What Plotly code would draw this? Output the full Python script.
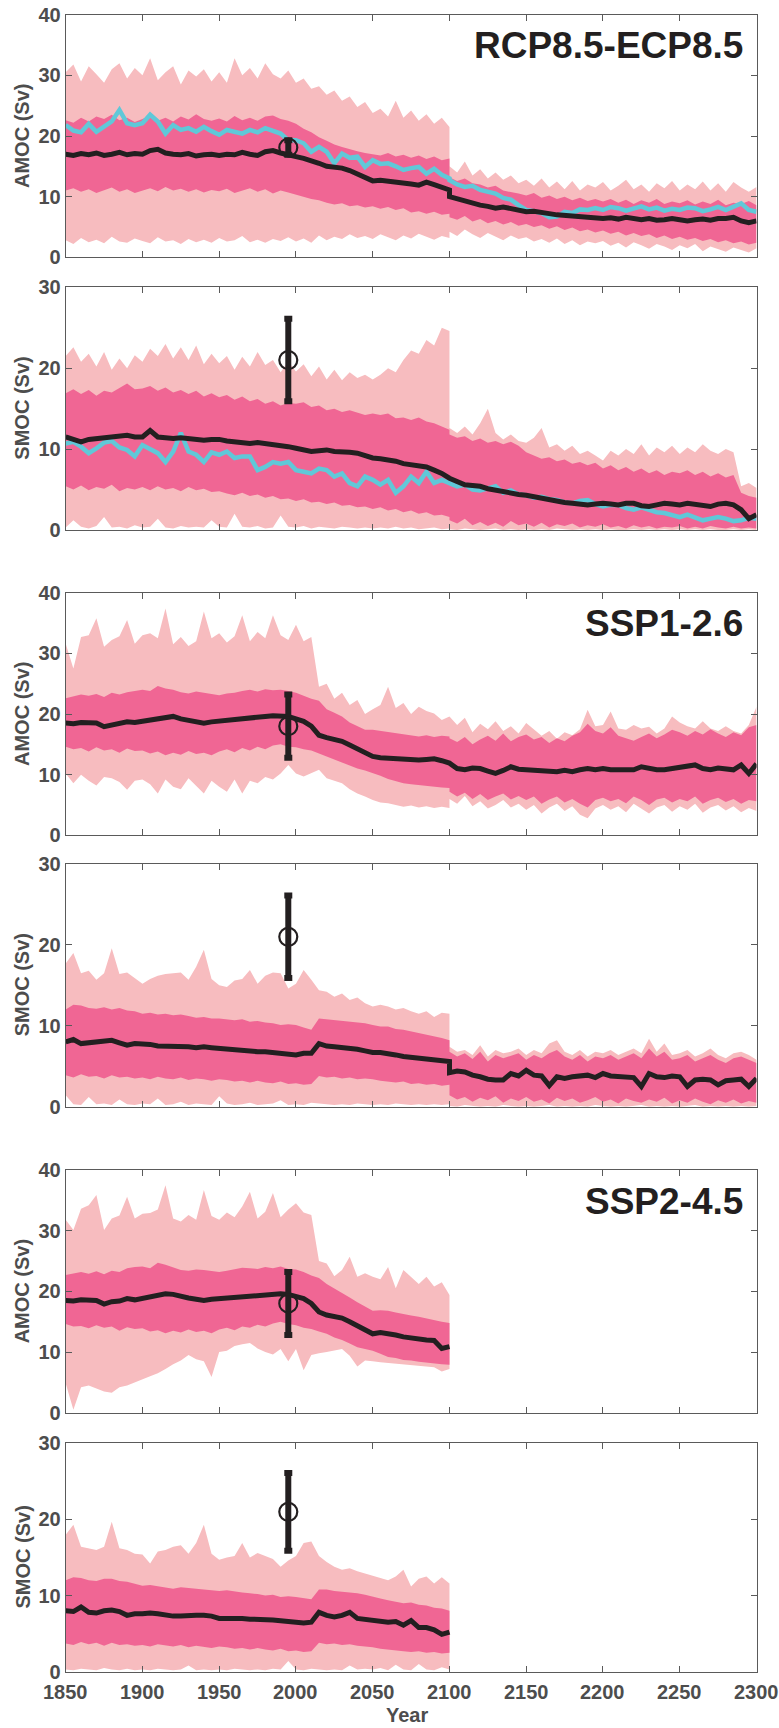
import plotly.graph_objects as go

# Annual-ensemble statistics sampled every 5 years.
# "_a" series run 1850-2100, "_b" series run 2100-2300 (extension runs).
YEARS_A = list(range(1850, 2101, 5))
YEARS_B = list(range(2100, 2301, 5))
YTICKS_AMOC = [0, 10, 20, 30, 40]
YTICKS_SMOC = [0, 10, 20, 30]
XTICKS = list(range(1850, 2301, 50))

# ---------------- RCP8.5-ECP8.5 : AMOC ----------------
rcp_amoc_max_a = [30.5, 31.8, 29.0, 31.5, 30.2, 28.8, 31.0, 32.0, 29.5, 31.2,
                  30.0, 32.8, 29.2, 30.5, 31.5, 28.5, 30.8, 29.8, 31.0, 29.0,
                  30.5, 28.8, 32.8, 30.0, 31.2, 29.5, 32.0, 30.2, 29.5, 30.8,
                  28.8, 29.5, 27.8, 28.2, 26.8, 27.5, 25.8, 26.5, 24.8, 25.6,
                  23.8, 24.5, 23.2, 25.8, 23.0, 24.2, 22.5, 23.6, 22.0, 23.0, 21.5]
rcp_amoc_max_b = [15.0, 14.0, 15.8, 13.5, 14.5, 13.0, 14.0, 12.8, 13.5, 12.2,
                  12.8, 11.8, 13.0, 11.5, 12.5, 11.2, 12.6, 11.0, 12.0, 11.5,
                  12.4, 11.0, 11.8, 12.8, 11.2, 12.0, 10.8, 12.2, 11.4, 12.6,
                  11.0, 12.0, 11.2, 12.5, 11.0, 12.2, 10.8, 12.4, 11.5, 10.8, 11.6]
rcp_amoc_min_a = [2.8, 2.2, 3.2, 2.5, 2.9, 2.3, 3.4, 2.6, 2.4, 3.1,
                  2.7, 2.3, 3.3, 2.6, 2.8, 2.2, 3.0, 2.5, 2.9, 2.4,
                  3.2, 2.6, 2.8, 3.5, 2.5, 2.9, 2.4, 3.0, 2.7, 3.3,
                  2.6, 3.1, 2.4, 3.6, 2.8, 3.4, 3.0, 3.8, 3.2, 3.5,
                  3.0, 3.8, 3.3, 2.8, 3.6, 3.1, 3.9, 3.4, 2.9, 3.5, 3.2]
rcp_amoc_min_b = [4.2, 3.5, 4.6, 3.8, 3.2, 4.0, 3.4, 2.8, 3.6, 3.0,
                  3.3, 2.6, 3.0, 2.4, 3.1, 2.2, 2.8, 2.0, 2.6, 2.3,
                  2.7, 1.9, 2.4, 1.6, 2.5, 2.0, 1.4, 2.2, 1.8, 1.2,
                  2.0, 1.5, 2.2, 1.0, 1.8, 1.4, 0.9, 1.6, 1.2, 0.8, 1.5]
rcp_amoc_hi_a = [22.6, 22.2, 23.0, 22.4, 23.2, 22.8, 23.5, 22.6, 23.0, 22.3,
                 22.8, 23.4, 22.5, 23.0, 22.4, 23.2, 22.7, 23.6, 22.8, 22.5,
                 22.9, 22.4, 23.3, 22.6, 23.0, 22.5, 23.2, 23.4, 22.8, 22.5,
                 22.0, 21.2, 20.6, 19.8, 19.2, 18.6, 18.2, 17.8, 17.5, 17.2,
                 17.0, 16.8, 17.2, 16.6, 16.9, 16.4, 16.8, 16.2, 16.6, 16.0, 16.3]
rcp_amoc_hi_b = [13.2, 12.6, 13.0, 12.2, 12.0, 11.5, 11.8, 11.0, 10.8, 10.5,
                 10.2, 10.6, 9.8, 10.2, 9.6, 10.0, 9.4, 9.8, 9.3, 9.6,
                 9.2, 9.6, 9.0, 9.5, 8.8, 9.4, 9.0, 9.6, 8.8, 9.2,
                 8.9, 9.4, 8.7, 9.2, 8.8, 9.5, 8.6, 9.0, 8.8, 9.3, 8.6]
rcp_amoc_lo_a = [11.0, 11.4, 10.8, 11.2, 10.6, 11.0, 11.5, 10.8, 11.2, 10.6,
                 11.0, 11.4, 10.9, 11.6, 11.0, 11.3, 10.8, 11.2, 10.7, 11.1,
                 10.9, 11.3, 10.6, 11.0, 11.4, 10.8, 11.2, 10.5, 11.0, 10.7,
                 10.4, 10.0, 9.6, 9.4, 9.0, 8.7, 8.9, 8.4, 8.6, 8.2,
                 8.4, 8.0, 8.3, 7.8, 8.1, 7.4, 7.6, 7.2, 7.5, 7.0, 7.2]
rcp_amoc_lo_b = [6.6, 6.2, 6.8, 5.9, 6.3, 5.6, 6.0, 5.4, 5.8, 5.2,
                 5.5, 5.0, 5.3, 4.7, 5.1, 4.5, 4.9, 4.3, 4.6, 4.1,
                 4.4, 3.9, 4.2, 3.6, 4.0, 3.5, 3.8, 3.2, 3.6, 3.0,
                 3.4, 2.9, 3.2, 2.7, 3.0, 2.5, 2.8, 2.3, 2.6, 2.1, 2.4]
rcp_amoc_mean_a = [17.0, 16.8, 17.1, 16.9, 17.2, 16.8, 17.0, 17.3, 16.9, 17.1,
                   17.0, 17.6, 17.8, 17.2, 17.0, 16.9, 17.1, 16.7, 16.9, 17.0,
                   16.8, 17.0, 16.9, 17.3, 17.0, 16.8, 17.4, 17.6, 17.2, 17.0,
                   16.6, 16.3, 16.0, 15.5, 15.0, 14.9, 14.7, 14.3, 13.8, 13.3,
                   12.6, 12.7, 12.6, 12.4, 12.2, 12.1, 11.9, 12.4, 12.0, 11.5, 11.1]
rcp_amoc_mean_b = [10.0, 9.6, 9.4, 9.0, 8.6, 8.4, 8.1, 8.3, 8.0, 7.7,
                   7.5, 7.6, 7.3, 7.2, 7.0, 6.9, 6.7, 6.8, 6.5, 6.6,
                   6.4, 6.5, 6.3, 6.6, 6.4, 6.2, 6.4, 6.1, 6.2, 6.4,
                   6.2, 6.0, 6.2, 6.3, 6.1, 6.4, 6.4, 6.6, 6.0, 5.7, 6.0]
rcp_amoc_model_a = [21.8, 20.9, 20.6, 22.0, 20.7, 21.5, 22.4, 24.3, 22.1, 21.8,
                    22.1, 23.5, 22.4, 20.4, 21.8, 21.0, 21.3, 20.7, 21.5, 20.8,
                    20.2, 21.0, 20.7, 20.4, 21.0, 20.6, 21.3, 20.8, 20.4, 19.3,
                    19.3, 18.8, 17.4, 18.2, 17.4, 15.5, 17.1, 16.4, 16.6, 14.9,
                    16.0, 15.4, 15.5, 15.0, 14.4, 14.7, 14.9, 13.8, 14.6, 13.6, 13.0]
rcp_amoc_model_b = [12.7, 12.0, 11.6, 11.8, 11.1, 10.8, 10.5, 9.8, 9.5, 8.6,
                    7.8, 7.6, 7.3, 6.6, 6.7, 7.5, 7.3, 7.9, 7.8, 8.1,
                    7.8, 8.3, 8.1, 7.7, 8.1, 8.4, 7.9, 8.2, 7.7, 8.0,
                    7.8, 8.2, 8.1, 7.6, 7.9, 8.3, 7.8, 8.4, 8.9, 7.8, 7.5]

# ---------------- RCP8.5-ECP8.5 : SMOC ----------------
rcp_smoc_max_a = [21.5, 22.6, 20.8, 21.8, 20.2, 22.0, 19.8, 21.2, 20.0, 21.6,
                  20.8, 22.4, 21.5, 23.0, 21.2, 22.6, 21.0, 22.8, 20.5, 21.8,
                  20.6, 21.5, 19.8, 21.4, 20.2, 22.0, 20.4, 21.0, 19.5, 20.8,
                  19.6, 20.5, 19.0, 20.2, 18.6, 19.8, 18.5, 19.5, 18.8, 19.2,
                  18.6, 19.2, 20.0, 19.5, 21.0, 22.2, 21.8, 23.5, 22.8, 25.0, 24.6]
rcp_smoc_max_b = [12.6, 12.0, 12.8, 11.8, 13.2, 15.0, 12.0, 11.2, 11.8, 11.0,
                  10.8, 11.4, 12.6, 10.2, 10.6, 9.8, 10.4, 9.4, 9.8, 9.2,
                  8.6, 9.8, 9.2, 10.0, 9.4, 10.6, 9.2, 10.2, 9.6, 10.4,
                  9.4, 10.2, 9.6, 10.6, 9.8, 9.4, 10.0, 9.6, 5.4, 5.8, 5.2]
rcp_smoc_min_a = [0.3, 1.2, 0.4, 0.2, 0.5, 1.6, 0.3, 0.4, 0.2, 0.6,
                  0.3, 0.4, 1.4, 0.3, 0.2, 0.5, 0.3, 0.4, 0.3, 1.2,
                  0.4, 0.3, 2.0, 0.4, 0.3, 0.5, 0.2, 0.3, 1.8, 0.4,
                  0.3, 0.5, 0.2, 0.4, 0.3, 0.2, 0.4, 0.3, 0.2, 0.3,
                  0.2, 0.3, 0.2, 0.4, 0.2, 0.3, 0.1, 0.2, 0.3, 0.1, 0.2]
rcp_smoc_min_b = [0.1, 0.0, 0.2, 0.1, 0.0, 0.1, 0.2, 0.0, 0.1, 0.0,
                  0.1, 0.0, 0.1, 0.0, 0.2, 0.1, 0.0, 0.1, 0.0, 0.1,
                  0.0, 0.1, 0.0, 0.0, 0.1, 0.0, 0.1, 0.0, 0.1, 0.0,
                  0.1, 0.0, 0.1, 0.0, 0.1, 0.0, 0.0, 0.1, 0.0, 0.1, 0.0]
rcp_smoc_hi_a = [16.9, 17.4, 16.8, 17.3, 16.6, 17.2, 17.0, 17.6, 18.1, 17.4,
                 17.5, 17.8, 17.2, 17.6, 17.0, 17.3, 16.8, 17.2, 16.5, 16.9,
                 16.4, 16.7, 16.1, 16.5, 15.9, 16.2, 15.6, 15.9, 15.4, 15.7,
                 15.6, 15.8, 15.2, 15.4, 14.8, 15.0, 14.6, 14.8, 14.5, 14.2,
                 14.4, 14.2, 14.4, 13.8, 13.9, 13.6, 13.9, 13.4, 13.2, 12.8, 12.4]
rcp_smoc_hi_b = [11.8, 11.4, 11.6, 11.0, 11.3, 10.8, 11.0, 10.6, 10.9, 10.4,
                 9.6, 9.2, 8.8, 9.0, 8.5, 8.7, 8.2, 8.4, 8.0, 8.3,
                 7.6, 8.0, 7.4, 7.8, 7.2, 7.6, 7.0, 7.4, 6.8, 7.2,
                 7.0, 7.4, 6.8, 7.2, 6.6, 7.0, 6.5, 6.8, 4.6, 4.2, 4.0]
rcp_smoc_lo_a = [5.4, 5.0, 5.5, 4.9, 5.3, 5.1, 5.6, 4.8, 5.2, 5.0,
                 5.3, 4.9, 5.4, 5.0, 5.2, 4.8, 5.3, 4.9, 5.1, 4.7,
                 4.8, 4.5, 4.3, 4.6, 4.2, 4.4, 4.0, 4.2, 3.8, 3.9,
                 3.6, 3.8, 3.4, 3.5, 3.2, 3.4, 3.0, 3.1, 2.8, 2.9,
                 2.6, 2.8, 2.4, 2.6, 2.2, 2.4, 2.0, 2.2, 1.8, 1.9, 1.6]
rcp_smoc_lo_b = [1.2, 0.8, 1.4, 0.6, 1.0, 0.5, 0.9, 0.4, 1.1, 0.6,
                 0.8, 0.4, 0.9, 0.3, 0.7, 0.5, 0.8, 0.3, 0.6, 0.4,
                 0.7, 0.3, 0.5, 0.2, 0.6, 0.3, 0.5, 0.2, 0.4, 0.3,
                 0.5, 0.2, 0.4, 0.2, 0.5, 0.3, 0.2, 0.4, 0.2, 0.3, 0.2]
rcp_smoc_mean_a = [11.5, 11.2, 10.9, 11.2, 11.3, 11.4, 11.5, 11.6, 11.7, 11.5,
                   11.5, 12.3, 11.5, 11.4, 11.3, 11.4, 11.3, 11.2, 11.1, 11.2,
                   11.2, 11.0, 10.9, 10.8, 10.7, 10.8, 10.7, 10.6, 10.5, 10.3,
                   10.1, 9.9, 9.7, 9.8, 9.9, 9.7, 9.7, 9.6, 9.5, 9.2,
                   8.9, 8.8, 8.7, 8.5, 8.2, 8.1, 8.0, 7.8, 7.4, 7.0, 6.4]
rcp_smoc_mean_b = [6.4, 6.0, 5.6, 5.5, 5.4, 5.1, 4.9, 4.7, 4.5, 4.4,
                   4.3, 4.1, 3.9, 3.7, 3.5, 3.4, 3.3, 3.2, 3.1, 3.2,
                   3.3, 3.2, 3.1, 3.3, 3.3, 3.0, 2.9, 3.1, 3.3, 3.2,
                   3.1, 3.3, 3.2, 3.0, 2.9, 3.2, 3.3, 3.1, 2.5, 1.4, 1.9]
rcp_smoc_model_a = [10.7, 10.9, 10.3, 9.5, 10.1, 10.8, 11.0, 10.2, 9.9, 9.1,
                    10.5, 10.0, 9.5, 8.4, 9.7, 12.0, 9.7, 9.3, 8.4, 9.6,
                    9.3, 9.7, 8.9, 9.1, 9.1, 7.4, 7.8, 8.4, 8.2, 8.4,
                    7.4, 7.2, 7.0, 7.6, 7.4, 6.6, 7.0, 5.8, 5.4, 6.6,
                    6.2, 5.6, 6.2, 4.6, 5.4, 6.6, 5.8, 7.2, 5.8, 6.2, 5.8]
rcp_smoc_model_b = [5.8, 5.4, 5.6, 5.0, 4.9, 5.2, 5.4, 4.6, 4.9, 4.4,
                    4.3, 4.0, 4.1, 3.8, 3.7, 3.4, 3.3, 3.6, 3.7, 3.2,
                    2.9, 3.1, 3.1, 2.7, 2.5, 2.8, 2.5, 2.2, 2.1, 1.8,
                    1.6, 1.9, 1.6, 1.2, 1.4, 1.6, 1.4, 1.1, 1.2, 1.5, 1.4]

# ---------------- SSP1-2.6 : AMOC ----------------
ssp126_amoc_max_a = [31.6, 27.5, 32.7, 33.0, 35.8, 31.1, 32.2, 32.8, 35.5, 31.6,
                     33.0, 33.3, 32.5, 37.4, 31.5, 32.7, 31.2, 32.0, 36.9, 32.5,
                     33.3, 31.8, 32.8, 36.3, 32.0, 33.5, 32.5, 36.3, 33.0, 32.2,
                     34.7, 32.0, 32.7, 24.5, 25.0, 22.5, 23.5, 21.5, 22.3, 20.0,
                     20.8, 21.5, 24.5, 21.0, 21.8, 20.0, 21.2, 20.5, 20.1, 19.0, 19.6]
ssp126_amoc_max_b = [19.6, 18.2, 19.4, 17.0, 18.4, 17.5, 18.8, 17.2, 18.0, 16.8,
                     18.5, 17.5, 16.4, 17.2, 15.9, 17.0, 16.5, 17.5, 20.7, 18.0,
                     18.2, 20.4, 17.6, 17.4, 18.2, 17.6, 17.9, 16.8, 17.6, 19.6,
                     18.6, 18.0, 17.6, 18.8, 17.6, 17.2, 18.0, 17.2, 16.8, 18.2, 21.2]
ssp126_amoc_min_a = [10.2, 8.6, 10.0, 9.0, 8.2, 9.6, 9.4, 8.8, 7.5, 9.0,
                     9.2, 8.4, 6.9, 9.2, 8.0, 7.6, 9.4, 8.2, 6.9, 9.0,
                     8.0, 7.2, 9.2, 6.9, 9.0, 8.6, 9.6, 9.2, 10.2, 11.6,
                     10.2, 9.7, 10.2, 10.8, 9.4, 9.0, 8.6, 7.6, 6.9, 6.4,
                     5.8, 5.4, 5.3, 5.0, 4.7, 4.9, 4.6, 4.8, 4.5, 4.7, 4.5]
ssp126_amoc_min_b = [6.0, 5.2, 6.5, 4.8, 5.6, 4.4, 5.0, 5.8, 4.6, 5.2,
                     4.2, 5.0, 3.6, 4.6, 5.2, 4.0, 4.8, 3.4, 2.8, 4.4,
                     5.0, 4.2, 4.8, 3.8, 5.2, 4.4, 3.6, 4.6, 5.0, 3.9,
                     4.8, 4.2, 5.2, 3.7, 4.6, 5.0, 4.1, 4.8, 3.8, 4.5, 4.0]
ssp126_amoc_hi_a = [22.6, 22.9, 23.2, 23.0, 23.3, 22.8, 23.5, 23.2, 23.6, 23.8,
                    24.0, 23.8, 24.6, 24.2, 24.0, 23.6, 23.4, 23.7, 23.5, 23.2,
                    23.1, 23.4, 23.5, 23.8, 24.0, 23.7, 24.1, 23.9, 24.0, 23.8,
                    23.5, 23.0, 22.5, 22.2, 20.8, 20.2, 19.6, 18.6, 18.0, 17.4,
                    17.4, 17.2, 17.1, 16.8, 16.6, 16.4, 16.3, 16.5, 16.2, 16.4, 16.3]
ssp126_amoc_hi_b = [16.0, 15.4, 16.2, 15.0, 15.8, 16.4, 15.6, 16.8, 15.5, 16.2,
                    16.6, 15.8, 16.2, 15.2, 16.0, 15.5, 16.4, 17.0, 18.4, 17.2,
                    16.8, 17.8, 16.4, 16.0, 15.6, 16.2, 16.8, 16.0, 16.6, 17.4,
                    17.0, 16.4, 17.2, 16.6, 17.5, 16.8, 16.2, 17.0, 16.5, 17.8, 18.2]
ssp126_amoc_lo_a = [14.6, 14.2, 14.4, 13.8, 14.5, 14.0, 14.2, 13.6, 14.3, 13.9,
                    14.0, 13.5, 13.8, 13.2, 13.6, 13.3, 13.9, 13.4, 13.6, 13.2,
                    13.8, 14.2, 13.7, 14.4, 14.0, 14.6, 14.2, 14.8, 15.0, 14.6,
                    14.5, 14.2, 14.0, 13.6, 13.0, 12.5, 12.0, 11.5, 11.0, 10.7,
                    10.3, 9.8, 9.3, 8.9, 8.6, 8.4, 8.2, 8.1, 8.0, 7.9, 7.8]
ssp126_amoc_lo_b = [7.2, 6.4, 7.0, 6.0, 6.8, 5.8, 6.4, 6.9, 5.9, 6.5,
                    5.8, 6.4, 5.2, 5.9, 6.4, 5.4, 6.0, 5.2, 4.6, 5.8,
                    6.2, 5.6, 6.0, 5.3, 6.4, 5.8, 5.0, 5.9, 6.2, 5.4,
                    6.0, 5.6, 6.4, 5.2, 5.8, 6.2, 5.5, 6.0, 5.2, 5.8, 5.6]
ssp126_amoc_mean_a = [18.5, 18.4, 18.6, 18.5, 18.5, 17.9, 18.2, 18.4, 18.7, 18.6,
                      18.8, 19.0, 19.3, 19.5, 19.6, 19.2, 19.0, 18.8, 18.5, 18.7,
                      18.8, 19.0, 19.0, 19.1, 19.2, 19.4, 19.6, 19.7, 19.6, 19.6,
                      19.2, 18.8, 18.0, 16.5, 16.1, 15.9, 15.5, 14.9, 14.3, 13.6,
                      13.0, 12.8, 12.7, 12.5, 12.4, 12.4, 12.4, 12.5, 12.6, 12.3, 11.9]
ssp126_amoc_mean_b = [11.9, 11.0, 10.8, 11.1, 11.0, 10.6, 10.2, 10.7, 11.3, 10.9,
                      10.8, 10.6, 10.7, 10.5, 10.5, 10.7, 10.5, 10.8, 11.0, 10.8,
                      11.0, 10.8, 10.8, 10.9, 10.8, 11.3, 11.0, 10.8, 10.8, 11.0,
                      11.0, 11.2, 11.6, 11.0, 10.8, 11.1, 11.0, 10.8, 11.6, 10.2, 11.8]

# ---------------- SSP1-2.6 : SMOC ----------------
ssp126_smoc_max_a = [17.7, 19.0, 16.5, 16.8, 15.7, 16.5, 19.6, 16.4, 16.6, 15.9,
                     15.2, 15.8, 16.2, 16.4, 16.5, 16.6, 15.7, 17.3, 19.4, 15.8,
                     15.0, 14.8, 15.6, 15.8, 16.9, 15.2, 16.2, 16.6, 16.5, 14.6,
                     15.2, 16.9, 15.7, 14.4, 14.2, 13.6, 14.0, 13.2, 13.5, 12.8,
                     12.4, 12.6, 12.4, 12.0, 12.2, 11.8, 11.5, 11.8, 11.1, 11.6, 11.5]
ssp126_smoc_max_b = [7.4, 6.8, 7.0, 6.4, 7.6, 6.2, 7.0, 6.6, 6.8, 7.2,
                     6.4, 7.0, 6.6, 7.8, 8.2, 6.8, 6.4, 7.0, 6.2, 6.8,
                     6.6, 7.0, 6.4, 6.8, 7.2, 6.6, 8.4, 6.8, 7.8, 6.4,
                     6.6, 7.0, 6.2, 6.6, 7.2, 6.4, 6.0, 6.6, 6.8, 6.4, 5.8]
ssp126_smoc_min_a = [1.4, 0.3, 0.2, 1.2, 0.3, 0.4, 0.2, 0.9, 0.3, 0.2,
                     0.4, 0.3, 1.0, 0.2, 0.3, 0.6, 0.2, 0.4, 0.3, 0.2,
                     1.3, 0.4, 0.2, 0.3, 0.5, 0.2, 0.3, 0.4, 0.8, 0.2,
                     0.3, 0.2, 0.5, 0.4, 0.3, 0.2, 0.3, 0.2, 0.4, 0.3,
                     0.2, 0.3, 0.2, 0.4, 0.3, 0.2, 0.3, 0.2, 0.3, 0.2, 0.3]
ssp126_smoc_min_b = [0.1, 0.0, 0.2, 0.1, 0.0, 0.1, 0.0, 0.2, 0.1, 0.0,
                     0.1, 0.0, 0.1, 0.2, 0.0, 0.1, 0.0, 0.1, 0.0, 0.2,
                     0.1, 0.0, 0.1, 0.0, 0.1, 0.2, 0.0, 0.1, 0.0, 0.1,
                     0.0, 0.1, 0.2, 0.0, 0.1, 0.0, 0.1, 0.0, 0.1, 0.0, 0.1]
ssp126_smoc_hi_a = [12.0, 12.6, 12.5, 12.2, 12.1, 12.3, 12.0, 12.2, 11.9, 11.8,
                    11.5, 11.6, 11.4, 11.5, 11.3, 11.4, 11.2, 11.0, 11.1, 10.9,
                    10.9, 10.8, 10.7, 10.8, 10.5, 10.6, 10.4, 10.3, 10.1, 10.2,
                    10.1, 9.8, 9.5, 10.9, 10.8, 10.7, 10.6, 10.5, 10.4, 10.3,
                    10.1, 9.9, 9.9, 9.6, 9.5, 9.3, 9.1, 8.9, 8.7, 8.5, 8.2]
ssp126_smoc_hi_b = [6.8, 6.2, 6.6, 5.9, 6.8, 5.6, 6.4, 6.0, 6.3, 6.6,
                    5.8, 6.4, 6.0, 6.6, 7.0, 6.2, 5.8, 6.4, 5.6, 6.2,
                    6.0, 6.4, 5.8, 6.2, 6.6, 6.0, 7.2, 6.2, 6.8, 5.8,
                    6.0, 6.4, 5.6, 6.0, 6.4, 5.8, 5.4, 6.0, 6.2, 5.8, 5.4]
ssp126_smoc_lo_a = [3.9, 3.6, 4.0, 3.7, 3.8, 3.5, 3.9, 3.6, 3.7, 3.5,
                    3.6, 3.4, 3.7, 3.5, 3.4, 3.6, 3.3, 3.5, 3.4, 3.2,
                    3.4, 3.3, 3.1, 3.2, 3.0, 3.2, 3.0, 2.9, 3.1, 2.8,
                    2.9, 2.7, 2.8, 3.8, 3.6, 3.7, 3.5, 3.6, 3.4, 3.5,
                    3.4, 3.2, 3.1, 3.0, 3.1, 2.8, 2.9, 2.7, 2.8, 2.6, 2.7]
ssp126_smoc_lo_b = [1.4, 0.9, 1.2, 0.6, 1.1, 0.8, 1.3, 0.5, 1.0, 0.7,
                    1.2, 0.6, 0.9, 0.4, 1.1, 0.7, 1.0, 0.5, 0.8, 1.2,
                    0.6, 0.9, 0.4, 1.0, 0.7, 0.5, 0.9, 0.6, 1.1, 0.4,
                    0.8, 0.5, 1.0, 0.6, 0.3, 0.8, 0.5, 0.9, 0.4, 0.7, 0.5]
ssp126_smoc_mean_a = [8.0, 8.3, 7.8, 7.9, 8.0, 8.1, 8.2, 7.9, 7.6, 7.8,
                      7.8, 7.7, 7.5, 7.5, 7.4, 7.4, 7.4, 7.3, 7.4, 7.3,
                      7.2, 7.1, 7.0, 7.0, 6.9, 6.8, 6.8, 6.7, 6.6, 6.5,
                      6.4, 6.6, 6.6, 7.8, 7.5, 7.4, 7.3, 7.3, 7.1, 6.9,
                      6.7, 6.7, 6.6, 6.4, 6.2, 6.1, 6.0, 5.9, 5.8, 5.7, 5.6]
ssp126_smoc_mean_b = [4.2, 4.4, 4.3, 3.9, 3.7, 3.4, 3.3, 3.3, 4.1, 3.8,
                      4.5, 3.9, 3.8, 2.6, 3.7, 3.5, 3.7, 3.8, 3.9, 3.6,
                      4.1, 3.8, 3.7, 3.7, 3.6, 2.5, 4.1, 3.7, 3.6, 3.8,
                      3.7, 2.5, 3.3, 3.4, 3.3, 2.7, 3.2, 3.3, 3.4, 2.5, 3.5]

# ---------------- SSP2-4.5 : AMOC ----------------
ssp245_amoc_max_a = [31.8, 30.1, 33.6, 34.2, 35.9, 30.1, 32.0, 32.5, 35.6, 32.0,
                     32.8, 32.9, 33.5, 37.5, 32.0, 31.5, 32.6, 31.8, 36.7, 32.4,
                     31.8, 33.0, 32.2, 34.0, 36.4, 32.0, 33.1, 36.2, 32.2, 33.5,
                     34.5, 33.0, 32.6, 25.0, 24.6, 22.5, 23.5, 25.7, 22.4, 23.0,
                     22.4, 22.0, 24.0, 20.5, 23.5, 22.4, 21.2, 22.4, 20.8, 21.5, 19.4]
ssp245_amoc_min_a = [4.8, 0.5, 4.2, 4.5, 4.0, 3.5, 3.3, 4.2, 4.5, 4.9,
                     5.5, 6.0, 6.5, 7.2, 8.0, 8.6, 9.5, 8.8, 8.5, 5.9,
                     10.0, 10.2, 11.0, 11.3, 11.5, 10.6, 10.0, 9.6, 10.5, 8.5,
                     10.5, 7.0, 9.5, 9.8, 10.0, 10.2, 10.5, 9.4, 7.6, 8.6,
                     8.5, 8.3, 8.1, 8.0, 8.0, 7.8, 7.7, 7.6, 7.5, 6.8, 7.2]
ssp245_amoc_hi_a = [22.7, 23.0, 23.2, 22.9, 23.3, 22.8, 23.4, 23.2, 23.8, 24.0,
                    24.1, 23.8, 24.7, 24.4, 24.0, 23.5, 23.4, 23.6, 23.5, 23.3,
                    23.2, 23.4, 23.6, 23.9, 23.8, 23.7, 24.0, 23.8, 24.1, 23.7,
                    23.6, 23.2, 22.6, 22.2, 21.2, 20.5, 19.8, 19.0, 18.2, 17.5,
                    16.8, 16.9, 16.8, 16.5, 16.2, 16.0, 15.8, 15.5, 15.2, 15.0, 14.8]
ssp245_amoc_lo_a = [14.6, 14.2, 14.3, 13.9, 14.4, 14.0, 14.2, 13.5, 14.1, 13.8,
                    13.9, 13.4, 13.6, 13.1, 13.5, 13.2, 13.7, 13.3, 13.5, 13.1,
                    13.7, 14.0, 13.6, 14.2, 14.0, 14.5, 14.2, 14.7, 15.0, 14.6,
                    14.4, 14.0, 13.8, 13.4, 13.0, 12.4, 12.0, 11.4, 10.8, 10.5,
                    10.2, 9.7, 9.2, 9.0, 8.7, 8.6, 8.4, 8.3, 8.1, 8.0, 7.9]
ssp245_amoc_mean_a = [18.5, 18.4, 18.6, 18.5, 18.5, 17.9, 18.3, 18.4, 18.8, 18.6,
                      18.8, 19.1, 19.3, 19.6, 19.5, 19.1, 18.9, 18.7, 18.5, 18.7,
                      18.8, 19.0, 19.1, 19.2, 19.3, 19.5, 19.6, 19.7, 19.6, 19.5,
                      19.2, 18.8, 18.0, 16.6, 16.1, 15.8, 15.6, 15.0, 14.4, 13.7,
                      13.0, 13.2, 13.1, 12.8, 12.5, 12.3, 12.0, 12.0, 11.9, 10.6, 10.9]

# ---------------- SSP2-4.5 : SMOC ----------------
ssp245_smoc_max_a = [18.0, 19.3, 16.4, 16.2, 16.0, 16.4, 19.7, 16.2, 16.0, 15.5,
                     15.4, 14.2, 15.8, 16.0, 16.4, 16.6, 15.5, 16.9, 19.3, 15.5,
                     14.7, 15.0, 15.2, 16.9, 15.0, 15.6, 15.2, 14.8, 13.8, 14.6,
                     15.2, 16.9, 17.1, 15.2, 14.4, 13.8, 13.4, 13.6, 13.2, 12.9,
                     12.7, 12.4, 12.0, 12.5, 13.4, 11.2, 12.2, 12.5, 11.6, 12.4, 11.6]
ssp245_smoc_min_a = [0.3, 0.2, 0.4, 0.3, 0.2, 0.5, 0.3, 0.2, 0.4, 0.2,
                     0.3, 0.2, 0.4, 0.3, 0.2, 0.3, 0.8, 0.2, 0.3, 0.2,
                     0.3, 0.2, 0.4, 0.3, 0.2, 0.3, 0.2, 0.4, 0.3, 1.4,
                     0.3, 0.2, 0.4, 0.3, 0.2, 0.3, 0.2, 0.8, 0.3, 0.4,
                     0.3, 0.5, 0.2, 0.9, 0.3, 0.2, 1.0, 0.3, 0.2, 0.6, 0.3]
ssp245_smoc_hi_a = [12.0, 12.4, 12.3, 12.0, 11.9, 12.2, 12.2, 11.9, 11.8, 11.6,
                    11.3, 11.4, 11.2, 11.1, 10.9, 11.1, 11.0, 10.9, 10.8, 10.7,
                    10.6, 10.7, 10.5, 10.4, 10.3, 10.2, 10.0, 10.1, 9.8, 9.9,
                    9.8, 9.6, 9.5, 10.8, 10.8, 10.6, 10.5, 10.4, 10.3, 10.1,
                    9.8, 9.6, 9.4, 9.2, 9.0, 9.1, 8.8, 8.7, 8.4, 8.3, 8.0]
ssp245_smoc_lo_a = [3.7, 3.5, 3.9, 3.6, 3.8, 3.4, 3.8, 3.5, 3.6, 3.4,
                    3.5, 3.3, 3.6, 3.4, 3.3, 3.5, 3.2, 3.4, 3.3, 3.1,
                    3.3, 3.2, 3.0, 3.1, 2.9, 3.1, 2.9, 2.8, 3.0, 2.7,
                    2.8, 2.6, 2.7, 3.8, 3.6, 3.7, 3.5, 3.6, 3.4, 3.3,
                    3.2, 3.0, 2.9, 2.8, 2.7, 2.6, 2.7, 2.5, 2.6, 2.4, 2.5]
ssp245_smoc_mean_a = [8.0, 7.9, 8.5, 7.8, 7.7, 8.0, 8.1, 7.9, 7.4, 7.6,
                      7.6, 7.7, 7.6, 7.4, 7.3, 7.3, 7.4, 7.4, 7.4, 7.3,
                      7.0, 7.0, 7.1, 7.0, 6.9, 6.9, 6.8, 6.8, 6.7, 6.6,
                      6.5, 6.4, 6.5, 7.8, 7.4, 7.2, 7.4, 7.8, 7.0, 6.9,
                      6.7, 6.6, 6.5, 6.6, 6.1, 6.7, 5.8, 5.8, 5.5, 4.9, 5.2]

# Observational estimates (value, half-range), plotted at one year
obs_year = 1995
obs_amoc_rcp = (18.1, 1.2)
obs_amoc = (18.0, 5.2)
obs_smoc = (21.0, 5.1)

# ---------------- styling ----------------
LIGHT = "#f7bcbf"
DARK = "#f06694"
CYAN = "#60c8d8"
BLACK = "#231f20"
AXIS_COLOR = "#5a5a5a"
TEXT_COLOR = "#4d4d4d"
FONT = "Liberation Sans, Arial, sans-serif"

W, H = 779, 1728
X_LEFT, X_RIGHT = 65.7, 756.5
PANEL_PX = [(14.7, 257.3), (287.3, 530.0), (592.7, 835.3),
            (864.0, 1106.7), (1170.0, 1412.7), (1443.3, 1671.7)]
XLABEL_Y_PX = 1691.5   # centre line of the year labels under the last panel

panels = [
    dict(ylabel="AMOC (Sv)", ymax=40, yticks=YTICKS_AMOC, title="RCP8.5-ECP8.5",
         years=YEARS_A + YEARS_B,
         vmax=rcp_amoc_max_a + rcp_amoc_max_b, vmin=rcp_amoc_min_a + rcp_amoc_min_b,
         hi=rcp_amoc_hi_a + rcp_amoc_hi_b, lo=rcp_amoc_lo_a + rcp_amoc_lo_b,
         mean=rcp_amoc_mean_a + rcp_amoc_mean_b,
         model=rcp_amoc_model_a + rcp_amoc_model_b, obs=obs_amoc_rcp),
    dict(ylabel="SMOC (Sv)", ymax=30, yticks=YTICKS_SMOC, title=None,
         years=YEARS_A + YEARS_B,
         vmax=rcp_smoc_max_a + rcp_smoc_max_b, vmin=rcp_smoc_min_a + rcp_smoc_min_b,
         hi=rcp_smoc_hi_a + rcp_smoc_hi_b, lo=rcp_smoc_lo_a + rcp_smoc_lo_b,
         mean=rcp_smoc_mean_a + rcp_smoc_mean_b,
         model=rcp_smoc_model_a + rcp_smoc_model_b, obs=obs_smoc),
    dict(ylabel="AMOC (Sv)", ymax=40, yticks=YTICKS_AMOC, title="SSP1-2.6",
         years=YEARS_A + YEARS_B,
         vmax=ssp126_amoc_max_a + ssp126_amoc_max_b, vmin=ssp126_amoc_min_a + ssp126_amoc_min_b,
         hi=ssp126_amoc_hi_a + ssp126_amoc_hi_b, lo=ssp126_amoc_lo_a + ssp126_amoc_lo_b,
         mean=ssp126_amoc_mean_a + ssp126_amoc_mean_b, model=None, obs=obs_amoc),
    dict(ylabel="SMOC (Sv)", ymax=30, yticks=YTICKS_SMOC, title=None,
         years=YEARS_A + YEARS_B,
         vmax=ssp126_smoc_max_a + ssp126_smoc_max_b, vmin=ssp126_smoc_min_a + ssp126_smoc_min_b,
         hi=ssp126_smoc_hi_a + ssp126_smoc_hi_b, lo=ssp126_smoc_lo_a + ssp126_smoc_lo_b,
         mean=ssp126_smoc_mean_a + ssp126_smoc_mean_b, model=None, obs=obs_smoc),
    dict(ylabel="AMOC (Sv)", ymax=40, yticks=YTICKS_AMOC, title="SSP2-4.5",
         years=YEARS_A,
         vmax=ssp245_amoc_max_a, vmin=ssp245_amoc_min_a,
         hi=ssp245_amoc_hi_a, lo=ssp245_amoc_lo_a,
         mean=ssp245_amoc_mean_a, model=None, obs=obs_amoc),
    dict(ylabel="SMOC (Sv)", ymax=30, yticks=YTICKS_SMOC, title=None,
         years=YEARS_A,
         vmax=ssp245_smoc_max_a, vmin=ssp245_smoc_min_a,
         hi=ssp245_smoc_hi_a, lo=ssp245_smoc_lo_a,
         mean=ssp245_smoc_mean_a, model=None, obs=obs_smoc),
]

for p in panels:
    n = len(p["years"])
    for key in ("vmax", "vmin", "hi", "lo", "mean", "model"):
        if p[key] is not None:
            assert len(p[key]) == n, (p["ylabel"], p["title"], key, len(p[key]), n)

fig = go.Figure()


def band(years, upper, lower, color, ax):
    return go.Scatter(x=list(years) + list(years)[::-1],
                      y=list(upper) + list(lower)[::-1],
                      fill="toself", fillcolor=color, mode="lines",
                      line=dict(width=0, color=color), hoverinfo="skip",
                      showlegend=False, xaxis=ax[0], yaxis=ax[1])


axis_font = dict(family=FONT, size=20, color=TEXT_COLOR, weight="bold")

for i, p in enumerate(panels, start=1):
    ax = ("x" if i == 1 else f"x{i}", "y" if i == 1 else f"y{i}")
    yrs = p["years"]
    fig.add_trace(band(yrs, p["vmax"], p["vmin"], LIGHT, ax))
    fig.add_trace(band(yrs, p["hi"], p["lo"], DARK, ax))
    if p["model"] is not None:
        fig.add_trace(go.Scatter(x=yrs, y=p["model"], mode="lines",
                                 line=dict(color=CYAN, width=4.5), hoverinfo="skip",
                                 showlegend=False, xaxis=ax[0], yaxis=ax[1]))
    fig.add_trace(go.Scatter(x=yrs, y=p["mean"], mode="lines",
                             line=dict(color=BLACK, width=5), hoverinfo="skip",
                             showlegend=False, xaxis=ax[0], yaxis=ax[1]))
    val, err = p["obs"]
    fig.add_trace(go.Scatter(x=[obs_year], y=[val], mode="markers",
                             marker=dict(symbol="circle-open", size=18, color=BLACK,
                                         line=dict(width=2.2, color=BLACK)),
                             error_y=dict(type="data", array=[err], symmetric=True,
                                          thickness=6, width=4, color=BLACK),
                             hoverinfo="skip", showlegend=False,
                             xaxis=ax[0], yaxis=ax[1]))

    top, bot = PANEL_PX[i - 1]
    xname = "xaxis" if i == 1 else f"xaxis{i}"
    yname = "yaxis" if i == 1 else f"yaxis{i}"
    fig.layout[xname] = dict(
        domain=[X_LEFT / W, X_RIGHT / W], anchor=ax[1], range=[1850, 2300],
        tickvals=XTICKS, ticks="inside", ticklen=6, tickwidth=1, tickcolor=AXIS_COLOR,
        showline=True, linecolor=AXIS_COLOR, linewidth=1, mirror="ticks",
        showgrid=False, zeroline=False, showticklabels=False, automargin=False)
    fig.layout[yname] = dict(
        domain=[1 - bot / H, 1 - top / H], anchor=ax[0], range=[0, p["ymax"]],
        tickvals=p["yticks"], ticks="inside", ticklen=6, tickwidth=1, tickcolor=AXIS_COLOR,
        showline=True, linecolor=AXIS_COLOR, linewidth=1, mirror="ticks",
        showgrid=False, zeroline=False, automargin=False,
        tickfont=axis_font, ticklabelstandoff=0)

    fig.add_annotation(text=p["ylabel"], textangle=-90, x=22 / W, y=1 - (top + bot) / 2 / H,
                       xref="paper", yref="paper", showarrow=False,
                       xanchor="center", yanchor="middle", font=axis_font)
    if p["title"]:
        fig.add_annotation(text=p["title"], x=745 / W, y=1 - (top + 31) / H,
                           xref="paper", yref="paper", showarrow=False,
                           xanchor="right", yanchor="middle",
                           font=dict(family=FONT, size=37, color=BLACK, weight="bold"))

# Year labels under the bottom panel, placed on its x scale
for yr in XTICKS:
    fig.add_annotation(text=str(yr), x=yr, xref="x6", y=1 - XLABEL_Y_PX / H, yref="paper",
                       showarrow=False, xanchor="center", yanchor="middle", font=axis_font)

fig.add_annotation(text="Year", x=407 / W, y=1 - 1715 / H, xref="paper", yref="paper",
                   showarrow=False, xanchor="center", yanchor="middle", font=axis_font)

fig.update_layout(template="none", width=W, height=H,
                  margin=dict(l=0, r=0, t=0, b=0, autoexpand=False),
                  font=dict(family=FONT),
                  paper_bgcolor="white", plot_bgcolor="white", showlegend=False)

fig.write_html("out.html")
